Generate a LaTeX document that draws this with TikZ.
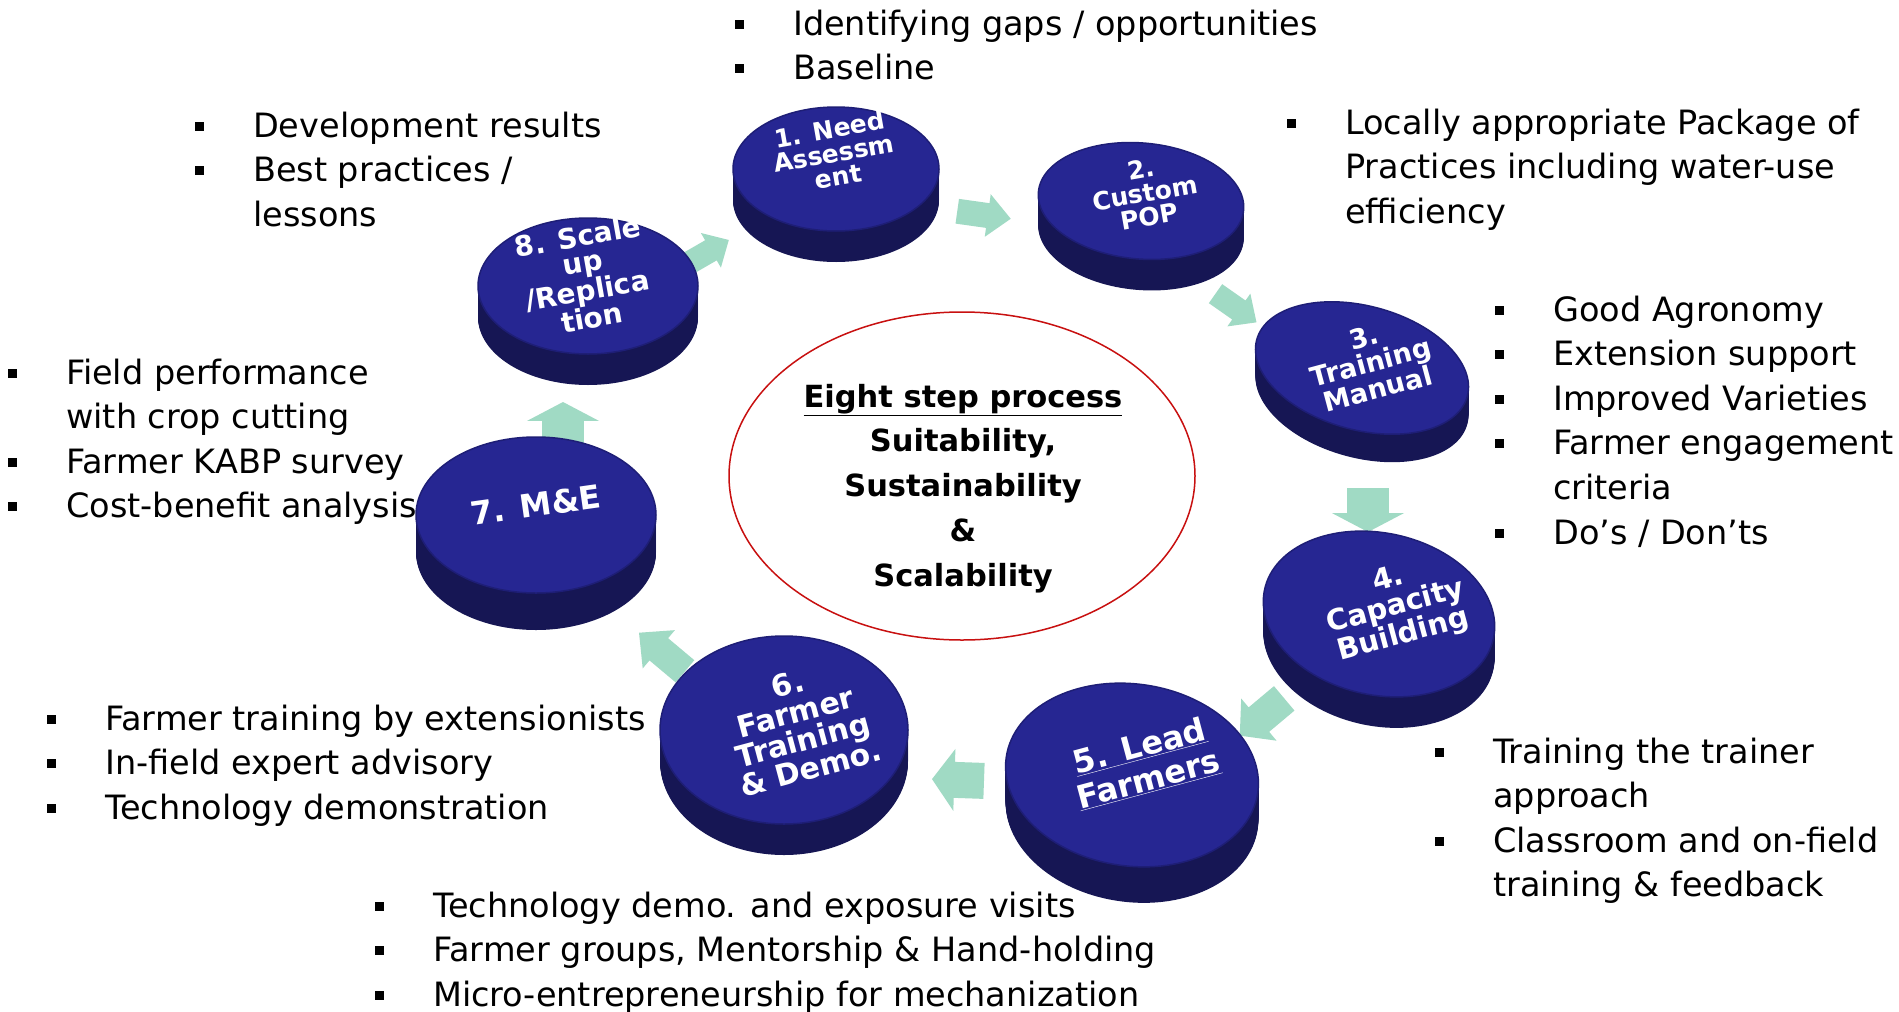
\documentclass[tikz,border=0pt]{standalone}
\usepackage{fontspec}
\setmainfont{DejaVu Sans}
\usepackage{tikz}
\usetikzlibrary{shapes.geometric,positioning}

\definecolor{discface}{RGB}{38,38,146}
\definecolor{discrim}{RGB}{30,30,118}
\definecolor{discside}{RGB}{22,22,84}
\definecolor{mintarrow}{RGB}{160,218,196}
\definecolor{coreline}{RGB}{200,16,16}

\newcommand\sq{\rule[6.5pt]{9pt}{9pt}}
\newcommand\bullets[1]{\begin{tabular}[t]{@{}l@{\hspace{49pt}}l@{}}#1\end{tabular}}

\tikzset{
  note/.style={anchor=base west, inner sep=0pt, font=\fontsize{33.5}{44.6}\selectfont},
  disctop/.style={ellipse, inner sep=0pt, fill=discface, draw=discrim, line width=1.5pt},
  disclbl/.style={text=white, align=center, inner sep=0pt},
  blockarr/.pic={\fill[mintarrow] (-0.5,-0.29) -- (0.07,-0.29) -- (0.07,-0.5) -- (0.5,0)
    -- (0.07,0.5) -- (0.07,0.29) -- (-0.5,0.29) -- cycle;}
}

\begin{document}
\begin{tikzpicture}[x=1pt,y=-1pt]
  \useasboundingbox (0,0) rectangle (1899,1012);
  \fill[white] (0,0) rectangle (1899,1012);

  % Arrows between the steps (drawn first, the discs cover their tails)
  \coordinate (a81) at (708,252);
  \coordinate (a12) at (984,215);
  \coordinate (a23) at (1236,308);
  \coordinate (a34) at (1368,510);
  \coordinate (a45) at (1262,717);
  \coordinate (a56) at (958,780);
  \coordinate (a67) at (662,652);
  \coordinate (a78) at (563,424);
  \pic[rotate=30,xscale=48,yscale=40] at (a81) {blockarr};
  \pic[rotate=-8,xscale=54,yscale=43] at (a12) {blockarr};
  \pic[rotate=-35,xscale=50,yscale=40] at (a23) {blockarr};
  \pic[rotate=-90,xscale=44,yscale=72] at (a34) {blockarr};
  \pic[rotate=-140,xscale=58,yscale=55] at (a45) {blockarr};
  \pic[rotate=178,xscale=52,yscale=62] at (a56) {blockarr};
  \pic[rotate=140,xscale=60,yscale=50] at (a67) {blockarr};
  \pic[rotate=90,xscale=44,yscale=72] at (a78) {blockarr};

  % Discs: side stacked downwards, top face on it
  \foreach \cx/\cy/\rx/\ry/\rot/\t [count=\n] in
    {836/169/103/62/0/31, 1141/201/103/58/-5/31, 1362/368/109/62/-15/28,
     1379/614/117/81/-12/31, 1132/775/127/91/-8/36, 784/730/124/94/0/31,
     536/515/120/78/0/37, 588/286/110/68/0/31}
  {
    \foreach \k in {1,...,\t}
      \fill[discside, rotate around={\rot:(\cx,\cy+\k)}] (\cx,\cy+\k) ellipse [x radius=\rx, y radius=\ry];
    \node[disctop, minimum width=2*\rx, minimum height=2*\ry, rotate=\rot] (disc\n) at (\cx,\cy) {};
  }

  % Step names on the discs
  \node[disclbl, rotate=10, font=\bfseries\fontsize{25}{24}\selectfont] (step1) at (834,153) {1. Need\\Assessm\\ent};
  \node[disclbl, rotate=10, font=\bfseries\fontsize{25}{24}\selectfont] (step2) at (1145,193) {2.\\Custom\\POP};
  \node[disclbl, rotate=15, font=\bfseries\fontsize{27}{26}\selectfont] (step3) at (1371,363) {3.\\Training\\Manual};
  \node[disclbl, rotate=15, font=\bfseries\fontsize{29}{28}\selectfont] (step4) at (1396,608) {4.\\Capacity\\Building};
  \node[disclbl, rotate=15, font=\bfseries\fontsize{32}{34}\selectfont] (step5) at (1144,763) {\underline{5. Lead}\\\underline{Farmers}};
  \node[disclbl, rotate=15, font=\bfseries\fontsize{30}{29}\selectfont] (step6) at (799,726) {6.\\Farmer\\Training\\\& Demo.};
  \node[disclbl, rotate=8, font=\bfseries\fontsize{32}{32}\selectfont] (step7) at (536,505) {7. M\&E};
  \node[disclbl, rotate=10, font=\bfseries\fontsize{28}{26}\selectfont] (step8) at (585,277) {8. Scale\\up\\/Replica\\tion};

  % Centre
  \node[ellipse, draw=coreline, line width=1.5pt, minimum width=466pt, minimum height=328pt] (core) at (962,476) {};
  \node[anchor=base, inner sep=0pt, font=\bfseries\fontsize{30.5}{44.8}\selectfont] (title) at (963,407)
    {\begin{tabular}[t]{@{}c@{}}\underline{Eight step process}\\Suitability,\\Sustainability\\\&\\Scalability\end{tabular}};

  % Notes around the cycle
  \node[note] (needs) at (735,35) {\bullets{\sq & Identifying gaps / opportunities\\ \sq & Baseline}};
  \node[note] (results) at (195,137) {\bullets{\sq & Development results\\ \sq & Best practices /\\ & lessons}};
  \node[note] (pop) at (1287,134) {\bullets{\sq & Locally appropriate Package of\\ & Practices including water-use\\ & efficiency}};
  \node[note] (manual) at (1495,321) {\bullets{\sq & Good Agronomy\\ \sq & Extension support\\ \sq & Improved Varieties\\ \sq & Farmer engagement\\ & criteria\\ \sq & Do’s / Don’ts}};
  \node[note] (capacity) at (1435,763) {\bullets{\sq & Training the trainer\\ & approach\\ \sq & Classroom and on-field\\ & training \& feedback}};
  \node[note] (lead) at (375,917) {\bullets{\sq & Technology demo. and exposure visits\\ \sq & Farmer groups, Mentorship \& Hand-holding\\ \sq & Micro-entrepreneurship for mechanization}};
  \node[note] (demo) at (47,730) {\bullets{\sq & Farmer training by extensionists\\ \sq & In-field expert advisory\\ \sq & Technology demonstration}};
  \node[note] (mande) at (8,384) {\bullets{\sq & Field performance\\ & with crop cutting\\ \sq & Farmer KABP survey\\ \sq & Cost-benefit analysis}};
\end{tikzpicture}
\end{document}
